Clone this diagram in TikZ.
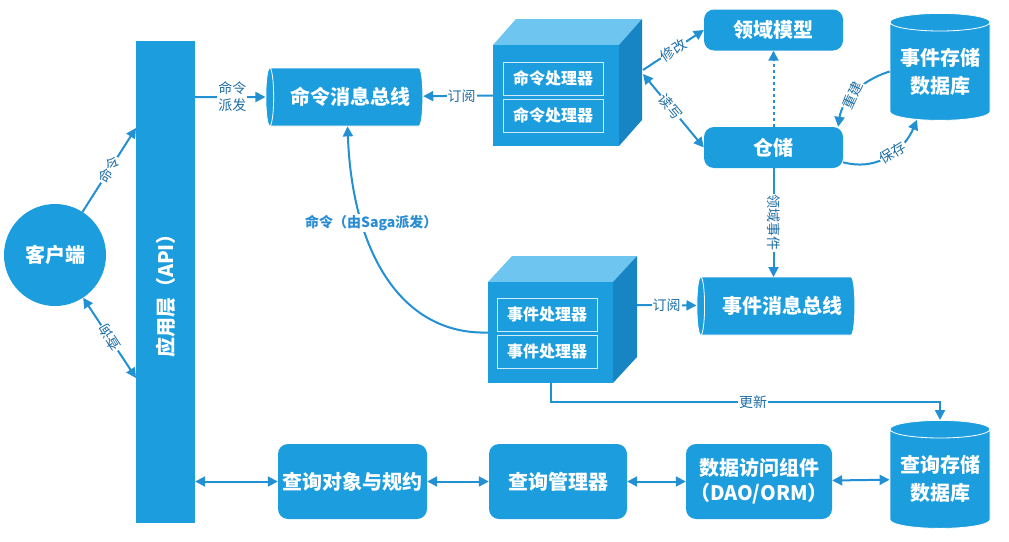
\documentclass[tikz,border=0pt]{standalone}
\usepackage{fontspec}
\setmainfont{Noto Sans CJK SC}
\usetikzlibrary{arrows.meta,shapes.geometric,calc}
\definecolor{mainblue}{HTML}{1B9DDE}
\definecolor{arrowblue}{HTML}{2290D2}
\definecolor{labelblue}{HTML}{1F6EA6}
\definecolor{cubetop}{HTML}{6EC6F0}
\definecolor{cubeside}{HTML}{1784C4}
\definecolor{sagablue}{HTML}{2A8DD4}
\tikzset{
  box/.style={rounded corners=10pt, fill=mainblue, text=white, font=\bfseries\fontsize{20}{25}\selectfont, align=center, inner sep=0pt},
  cyl/.style={cylinder, cylinder uses custom fill, cylinder body fill=mainblue, cylinder end fill=mainblue, draw=white, line width=0.8pt, text=white, font=\bfseries\fontsize{20}{28}\selectfont, align=center, inner sep=0pt},
  procbox/.style={draw=white!80!mainblue, line width=0.8pt, text=white, font=\bfseries\fontsize{16}{18}\selectfont, minimum width=100pt, minimum height=33pt, inner sep=0pt},
  front/.style={fill=mainblue, inner sep=0pt},
  conn/.style={draw=arrowblue, line width=2pt},
  arr/.style={conn, -{Triangle[length=10pt,width=10pt]}},
  darr/.style={conn, {Triangle[length=10pt,width=10pt]}-{Triangle[length=10pt,width=10pt]}},
  lbl/.style={fill=white, text=labelblue, font=\fontsize{14}{15}\selectfont, inner sep=1pt},
}
\begin{document}
\begin{tikzpicture}[x=1pt,y=-1pt]
\useasboundingbox (0,0) rectangle (1009,541);

% client and API layer
\node[circle, fill=mainblue, minimum size=102pt, inner sep=0pt, text=white, font=\bfseries\fontsize{20}{24}\selectfont] (client) at (55,255) {客户端};
\node[fill=mainblue, minimum width=59pt, minimum height=482pt, inner sep=0pt] (api) at (165.5,282) {};
\node[rotate=90, text=white, font=\bfseries\fontsize{20}{24}\selectfont] (apitext) at (165.5,291) {应用层（API）};
\coordinate (apiC) at (136,128);
\coordinate (apiQ) at (136,378);

% command bus
\node[cyl, shape border rotate=180, aspect=0.4, minimum height=157pt, minimum width=58pt] (cmdbus) at (346.5,97) {\hspace*{8pt}命令消息总线};

% command processor cube
\fill[cubetop] (493,45) -- (516,19) -- (642,19) -- (619,45) -- cycle;
\fill[cubeside] (619,45) -- (642,19) -- (642,120) -- (619,146) -- cycle;
\node[front, minimum width=126pt, minimum height=101pt] (cmdcube) at (556,95.5) {};
\node[procbox] (cp1) at (553,78.5) {命令处理器};
\node[procbox] (cp2) at (553,115.5) {命令处理器};
\coordinate (cr1) at (643,70);
\coordinate (cr2) at (643,74);

% domain model and repository
\node[box, minimum width=139pt, minimum height=41pt] (domain) at (773.5,30) {领域模型};
\node[box, minimum width=139pt, minimum height=41pt] (repo) at (773.5,147.5) {仓储};

% event store db
\node[cyl, shape border rotate=90, aspect=0.22, minimum width=100pt, minimum height=107pt] (esdb) at (940,71.5) {事件存储\\数据库};

% event bus
\node[cyl, shape border rotate=180, aspect=0.4, minimum height=158pt, minimum width=58pt] (evbus) at (778,306) {\hspace*{8pt}事件消息总线};

% event processor cube
\fill[cubetop] (488,282) -- (512,256) -- (637,256) -- (613,282) -- cycle;
\fill[cubeside] (613,282) -- (637,256) -- (637,357) -- (613,383) -- cycle;
\node[front, minimum width=125pt, minimum height=101pt] (evcube) at (550.5,332.5) {};
\node[procbox] (ep1) at (547,314.5) {事件处理器};
\node[procbox] (ep2) at (547,351.5) {事件处理器};
\coordinate (er) at (637,305);

% query side
\node[box, minimum width=149pt, minimum height=75pt] (qobj) at (352.5,481.5) {查询对象与规约};
\node[box, minimum width=138pt, minimum height=75pt] (qmgr) at (558,481.5) {查询管理器};
\node[box, minimum width=146pt, minimum height=75pt] (dao) at (759,481.5) {数据访问组件\\（DAO/ORM）};
\node[cyl, shape border rotate=90, aspect=0.22, minimum width=100pt, minimum height=108pt] (qdb) at (940,479) {查询存储\\数据库};

% connectors
\draw[arr] (client) -- (apiC) node[lbl, pos=0.5, rotate=58] {命令};
\draw[darr] (client) -- (apiQ) node[lbl, pos=0.5, rotate=123] {查询};
\draw[arr] (api.east |- cmdbus.center) -- (cmdbus) node[lbl, pos=0.53, align=center, font=\fontsize{14}{17}\selectfont] {命令\\派发};
\draw[arr] (cmdcube.west) -- (cmdbus) node[lbl, pos=0.45] {订阅};
\draw[arr] (cr1) -- (domain.west) node[lbl, pos=0.5, rotate=33] {修改};
\draw[darr] (cr2) -- (repo.west) node[lbl, pos=0.45, rotate=-50] {读写};
\draw[conn, dashed, -{Triangle[length=10pt,width=10pt]}] (repo.north) -- (domain.south);
\draw[arr] (esdb.west) .. controls (862,80) and (842,100) .. ([xshift=-5pt]repo.north east) node[lbl, pos=0.55, rotate=65] {重建};
\draw[arr] (repo.-12) .. controls (880,172) and (905,148) .. ($(esdb.south)+(-23,-1)$) node[lbl, pos=0.55, rotate=32] {保存};
\draw[arr] (repo.south) -- ($(repo.south |- evbus.center)+(0,-29)$) node[lbl, pos=0.5, rotate=-90] {领域事件};
\draw[arr] (er) -- (evbus) node[lbl, pos=0.5] {订阅};
\draw[arr] (evcube.west) .. controls (400,335) and (352,250) .. (cmdbus) node[pos=0.71, xshift=9pt, fill=white, inner sep=1pt, text=sagablue, font=\bfseries\fontsize{14}{15}\selectfont] {命令（由Saga派发）};
\draw[arr] (evcube.south) -- ++(0,19) -| (qdb) node[lbl, pos=0.26] {更新};
\draw[darr] (api.east |- qobj.center) -- (qobj);
\draw[darr] (qobj) -- (qmgr);
\draw[darr] (qmgr) -- (dao);
\draw[darr] (dao) -- (qdb);
\end{tikzpicture}
\end{document}
